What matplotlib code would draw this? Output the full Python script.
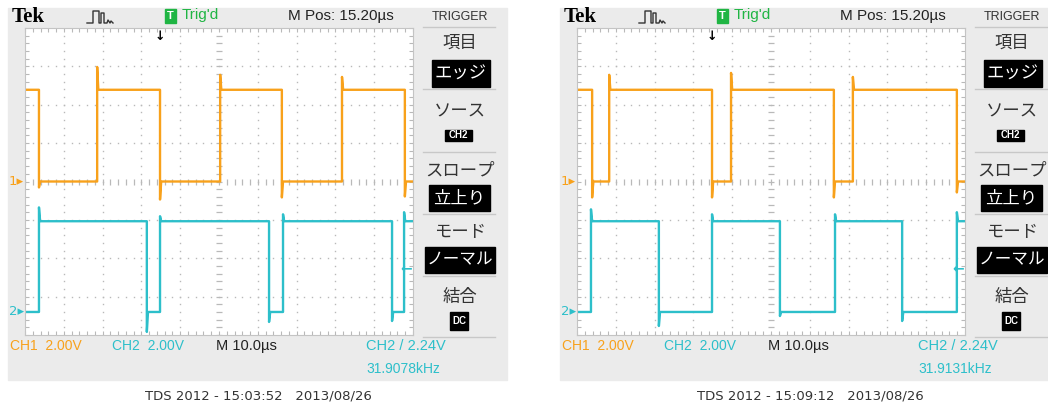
import numpy as np
import matplotlib.pyplot as plt
from matplotlib.patches import Rectangle
from matplotlib.lines import Line2D
from matplotlib.transforms import blended_transform_factory

W, H = 1048, 405

# scope settings (same for both captures)
VDIV = 2.0          # V/div, both channels
TDIV = 10.0         # us/div
MPOS = 15.20        # us, screen centre relative to trigger
CH1_OFF = 0.0       # div, ground marker of CH1
CH2_OFF = -3.4      # div, ground marker of CH2
TRIG_LEVEL = 2.24   # V on CH2
CH1_HIGH = 4.78
CH2_HIGH = 4.73

# capture 1 : edge times (us) and the overshoot peak (V) at each edge
ch1_edges_a = [-31.2, -16.2, 0.0, 15.5, 31.4, 46.9, 63.1]
ch1_peaks_a = [-0.31, 5.97, -0.94, 5.56, -0.83, 5.45, -0.78]
ch2_edges_a = [-31.2, -3.4, 0.0, 28.1, 31.7, 59.8, 62.9]
ch2_peaks_a = [5.45, -1.04, 4.99, -0.52, 5.09, -0.47, 5.20]
freq_a = "31.9078kHz"
stamp_a = "TDS 2012 - 15:03:52   2013/08/26"

# capture 2
ch1_edges_b = [-30.9, -26.5, 0.0, 4.9, 31.4, 36.3, 63.1]
ch1_peaks_b = [-0.83, 5.56, -0.83, 5.66, -0.83, 5.45, -0.57]
ch2_edges_b = [-31.2, -13.7, 0.0, 17.5, 31.7, 49.0, 63.1]
ch2_peaks_b = [5.35, -0.73, 5.09, -0.21, 5.09, -0.47, 5.20]
freq_b = "31.9131kHz"
stamp_b = "TDS 2012 - 15:09:12   2013/08/26"

menu_titles = ["項目", "ソース", "スロープ", "モード", "結合"]
menu_values = ["エッジ", "CH2", "立上り", "ノーマル", "DC"]

ORANGE = "#f8a11b"
CYAN = "#2dbfca"
GREEN = "#1fb543"
PANEL = "#ebebeb"
GRIDC = "#b9b9b9"

SANS = ["Liberation Sans", "DejaVu Sans"]
JP = ["Noto Sans CJK JP", "DejaVu Sans"]

fig = plt.figure(figsize=(W / 100, H / 100), dpi=100)
fig.patch.set_facecolor("white")


def fx(x):
    return x / W


def fy(y):
    return 1 - y / H


def box(x0, y0, x1, y1, **kw):
    fig.patches.append(Rectangle((fx(x0), fy(y1)), (x1 - x0) / W, (y1 - y0) / H,
                                 transform=fig.transFigure, **kw))


def txt(x, y, s, **kw):
    kw.setdefault("va", "center")
    fig.text(fx(x), fy(y), s, **kw)


def square_wave(edges, peaks, high, start_high, t0, t1):
    lvl = high if start_high else 0.0
    ts, vs = [t0], [lvl]
    for e, p in zip(edges, peaks):
        new = 0.0 if lvl == high else high
        ts += [e, e, e + 0.3]
        vs += [lvl, p, new]
        lvl = new
    ts.append(t1)
    vs.append(lvl)
    return np.array(ts), np.array(vs)


def draw_scope(dx, ch1, ch2, freq, stamp):
    box(8 + dx, 8, 507 + dx, 380, color=PANEL, zorder=-5)

    t0 = MPOS - 5 * TDIV
    t1 = MPOS + 5 * TDIV
    ax = fig.add_axes([fx(25 + dx), fy(335), 388 / W, 307 / H])
    ax.set_zorder(1)
    ax.set_xlim(t0, t1)
    ax.set_ylim(-4, 4)
    ax.set_facecolor("white")
    for sp in ax.spines.values():
        sp.set_color("#c4c4c4")
        sp.set_linewidth(0.8)

    # graticule: dotted division lines, ticked centre cross, ticked border
    minor_t = np.arange(t0, t1 + 0.01, TDIV / 5)
    minor_v = np.arange(-4, 4.01, 0.2)
    for i in range(1, 10):
        x = t0 + i * TDIV
        if i == 5:
            ax.plot(np.full(minor_v.size, x), minor_v, ls="", marker="_",
                    ms=4, mew=0.9, color=GRIDC)
        else:
            ax.plot(np.full(minor_v.size, x), minor_v, ls="", marker="s",
                    ms=1.0, mew=0, color=GRIDC)
    for j in range(-3, 4):
        if j == 0:
            ax.plot(minor_t, np.zeros(minor_t.size), ls="", marker="|",
                    ms=4, mew=0.9, color=GRIDC)
        else:
            ax.plot(minor_t, np.full(minor_t.size, j), ls="", marker="s",
                    ms=1.0, mew=0, color=GRIDC)
    ax.set_xticks([])
    ax.set_yticks([])
    ax.set_xticks(minor_t, minor=True)
    ax.set_yticks(minor_v, minor=True)
    ax.tick_params(which="minor", direction="in", length=3, width=0.8,
                   colors=GRIDC, top=True, right=True,
                   labelbottom=False, labelleft=False)

    t, v = square_wave(ch1[0], ch1[1], CH1_HIGH, True, t0, t1)
    ax.plot(t, v / VDIV + CH1_OFF, color=ORANGE, lw=1.7)
    t, v = square_wave(ch2[0], ch2[1], CH2_HIGH, False, t0, t1)
    ax.plot(t, v / VDIV + CH2_OFF, color=CYAN, lw=1.7)

    # trigger position, ground markers, trigger level
    bt = blended_transform_factory(ax.transData, ax.transAxes)
    ax.text(0.0, 0.995, "↓", transform=bt, ha="center", va="top",
            fontsize=9, fontweight="bold", color="black")
    bl = blended_transform_factory(ax.transAxes, ax.transData)
    ax.text(-0.042, CH1_OFF, "1▸", transform=bl, ha="left", va="center",
            fontsize=9.5, color=ORANGE, clip_on=False)
    ax.text(-0.042, CH2_OFF, "2▸", transform=bl, ha="left", va="center",
            fontsize=9.5, color=CYAN, clip_on=False)
    ax.text(0.998, TRIG_LEVEL / VDIV + CH2_OFF, "←", transform=bl,
            ha="right", va="center", fontsize=10, fontweight="bold",
            color=CYAN)

    # header
    txt(12 + dx, 17, "Tek", family=["Liberation Serif", "DejaVu Serif"],
        fontweight="bold", fontsize=15)
    icon = Line2D([fx(x + dx) for x in [87, 93, 93, 99, 99, 101, 101, 104, 104, 107, 108, 110, 111, 113]],
                  [fy(y) for y in [23, 23, 11, 11, 23, 23, 13, 13, 23, 23, 20, 23, 21, 23]],
                  transform=fig.transFigure, color="#333333", lw=1.0)
    fig.lines.append(icon)
    box(165 + dx, 9, 176 + dx, 23, color=GREEN)
    txt(170.5 + dx, 16, "T", ha="center", color="white", fontsize=8,
        fontweight="bold", family=SANS)
    txt(182 + dx, 15, "Trig'd", color=GREEN, fontsize=11, family=SANS)
    txt(288 + dx, 16, "M Pos: 15.20\u00b5s", color="#222222", fontsize=11,
        family=SANS)

    # trigger menu
    cx = 460 + dx
    txt(cx, 17, "TRIGGER", ha="center", fontsize=9, color="#333333",
        family=SANS)
    for y in [27, 89, 152, 214, 276, 337]:
        fig.lines.append(Line2D([fx(423 + dx), fx(495 + dx)], [fy(y), fy(y)],
                                transform=fig.transFigure, color="#c8c8c8", lw=1))
    title_y = [43, 112, 170, 232, 297]
    value_boxes = [(432, 60, 490, 87), (445, 130, 472, 141), (429, 185, 490, 211),
                   (425, 247, 495, 273), (450, 312, 468, 330)]
    value_size = [12.5, 7, 12.5, 12, 7]
    for name, val, ty, (bx0, by0, bx1, by1), vs in zip(
            menu_titles, menu_values, title_y, value_boxes, value_size):
        txt(cx, ty, name, ha="center", fontsize=12.5, color="#333333", family=JP)
        box(bx0 + dx, by0, bx1 + dx, by1, color="black")
        small = val.isascii()
        txt((bx0 + bx1) / 2 + dx, (by0 + by1) / 2, val, ha="center",
            color="white", fontsize=vs,
            fontweight="bold" if small else "normal",
            family=SANS if small else JP)

    # readouts under the screen
    txt(10 + dx, 346, "CH1  2.00V", color=ORANGE, fontsize=10, family=SANS)
    txt(112 + dx, 346, "CH2  2.00V", color=CYAN, fontsize=10, family=SANS)
    txt(216 + dx, 346, "M 10.0\u00b5s", color="#222222", fontsize=10.5,
        family=SANS)
    txt(366 + dx, 346, "CH2 / 2.24V", color=CYAN, fontsize=10.5, family=SANS)
    txt(366 + dx, 369, freq, color=CYAN, fontsize=10, family=SANS)

    txt(258 + dx, 396, stamp, ha="center", fontsize=9.5, color="#333333")


draw_scope(0, (ch1_edges_a, ch1_peaks_a), (ch2_edges_a, ch2_peaks_a), freq_a, stamp_a)
draw_scope(552, (ch1_edges_b, ch1_peaks_b), (ch2_edges_b, ch2_peaks_b), freq_b, stamp_b)

fig.savefig("out.png", dpi=100)
